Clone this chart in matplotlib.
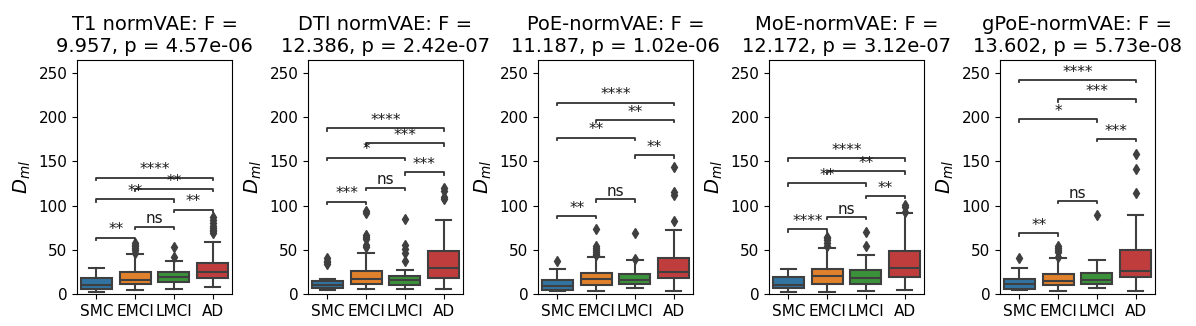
import matplotlib
matplotlib.use("Agg")
import matplotlib.pyplot as plt

categories = ["SMC", "EMCI", "LMCI", "AD"]
panel_titles = [
    "T1 normVAE: F =\n9.957, p = 4.57e-06",
    "DTI normVAE: F =\n12.386, p = 2.42e-07",
    "PoE-normVAE: F =\n11.187, p = 1.02e-06",
    "MoE-normVAE: F =\n12.172, p = 3.12e-07",
    "gPoE-normVAE: F =\n13.602, p = 5.73e-08",
]

# box statistics per panel (rows) and category (columns)
whisker_low = [
    [2.6, 4.5, 6.3, 8.6],
    [4.5, 5.6, 5.6, 6.3],
    [4.1, 4.1, 6.8, 4.1],
    [3.0, 3.0, 4.1, 4.5],
    [4.5, 4.1, 6.8, 4.1],
]
quart1 = [
    [6.5, 11.3, 13.5, 18.4],
    [7.5, 11.6, 10.5, 18.0],
    [5.0, 10.5, 11.3, 18.8],
    [6.8, 12.0, 12.0, 19.2],
    [6.3, 10.5, 11.3, 19.9],
]
medians = [
    [10.0, 16.5, 20.0, 24.8],
    [11.0, 17.3, 16.1, 30.0],
    [9.7, 16.9, 16.1, 24.8],
    [10.8, 20.3, 18.4, 29.3],
    [11.2, 15.5, 16.1, 26.6],
]
quart3 = [
    [18.0, 24.8, 24.8, 35.0],
    [14.8, 26.6, 20.3, 48.8],
    [16.1, 23.7, 22.5, 40.9],
    [19.5, 28.9, 27.4, 48.8],
    [16.9, 23.3, 24.4, 50.0],
]
whisker_high = [
    [30.0, 45.5, 38.0, 59.3],
    [17.3, 46.9, 27.4, 83.8],
    [28.9, 41.7, 38.3, 72.2],
    [28.9, 52.6, 44.3, 91.3],
    [29.7, 41.3, 39.0, 89.4],
]
outliers = [
    [[], [47, 50, 52, 54, 56, 58], [41.7, 53.7], [69, 71, 73, 75, 77, 80, 84, 87]],
    [[34, 36, 38, 41], [53, 56, 62, 65, 67, 92, 94], [37, 47, 51, 56, 85], [107, 110, 117, 120]],
    [[37.6], [44, 46, 48, 50, 52, 54, 74], [40, 68.8], [83, 112, 115, 143]],
    [[], [55, 58, 61, 63, 65], [54.8, 69.9], [93, 98, 101]],
    [[41.3], [42, 48, 50, 52, 54], [89.4], [114, 141, 158]],
]

# significance brackets: (group i, group j), heights per panel, labels per panel
pairs = [(0, 1), (1, 2), (2, 3), (0, 2), (1, 3), (0, 3)]
bracket_heights = [
    [63.9, 76.3, 95.2, 107.1, 118.8, 131.4],
    [104.3, 120.4, 137.4, 154.2, 170.3, 187.2],
    [88.3, 107.1, 156.8, 176.6, 196.6, 216.1],
    [73.6, 87.2, 110.9, 125.2, 138.7, 153.4],
    [68.8, 105.2, 175.1, 197.3, 219.9, 241.7],
]
bracket_labels = [
    ["**", "ns", "**", "**", "**", "****"],
    ["***", "ns", "***", "*", "***", "****"],
    ["**", "ns", "**", "**", "**", "****"],
    ["****", "ns", "**", "**", "**", "****"],
    ["**", "ns", "***", "*", "***", "****"],
]

colors = ["#3274a1", "#e1812c", "#3a923a", "#c03d3e"]
edge = "#3f3f3f"

fig = plt.figure(figsize=(11.96, 3.26), dpi=100)
W, H = 1196.0, 326.0
lefts = [77, 308, 538, 769, 1000]
ax_w = 155
ax_top, ax_bot = 60, 294.3

for p in range(5):
    ax = fig.add_axes([lefts[p] / W, (H - ax_bot) / H, ax_w / W, (ax_bot - ax_top) / H])
    stats = []
    for c in range(4):
        stats.append(dict(whislo=whisker_low[p][c], q1=quart1[p][c], med=medians[p][c],
                          q3=quart3[p][c], whishi=whisker_high[p][c],
                          fliers=outliers[p][c], label=categories[c]))
    bp = ax.bxp(stats, positions=range(4), widths=0.8, patch_artist=True,
                boxprops=dict(edgecolor=edge, linewidth=1.5),
                medianprops=dict(color=edge, linewidth=1.5),
                whiskerprops=dict(color=edge, linewidth=1.5),
                capprops=dict(color=edge, linewidth=1.5),
                flierprops=dict(marker="d", markerfacecolor=edge, markeredgecolor=edge,
                                markersize=5.5, linestyle="none"))
    for patch, col in zip(bp["boxes"], colors):
        patch.set_facecolor(col)
    ax.set_xlim(-0.5, 3.5)
    ax.set_ylim(0, 264.2)
    ax.set_yticks([0, 50, 100, 150, 200, 250])
    ax.set_xticks(range(4))
    ax.set_xticklabels(categories)
    ax.tick_params(labelsize=11)
    ax.set_ylabel(r"$D_{ml}$", fontsize=14)
    ax.set_title(panel_titles[p], fontsize=14)

    tick_h = 2.8
    for (i, j), yv, lab in zip(pairs, bracket_heights[p], bracket_labels[p]):
        ax.plot([i, i, j, j], [yv - tick_h, yv, yv, yv - tick_h], color="0.2", linewidth=1.3)
        ax.text((i + j) / 2, yv + 0.5, lab, ha="center", va="bottom", fontsize=11, color="0.1")

fig.savefig("out.png", dpi=100)
